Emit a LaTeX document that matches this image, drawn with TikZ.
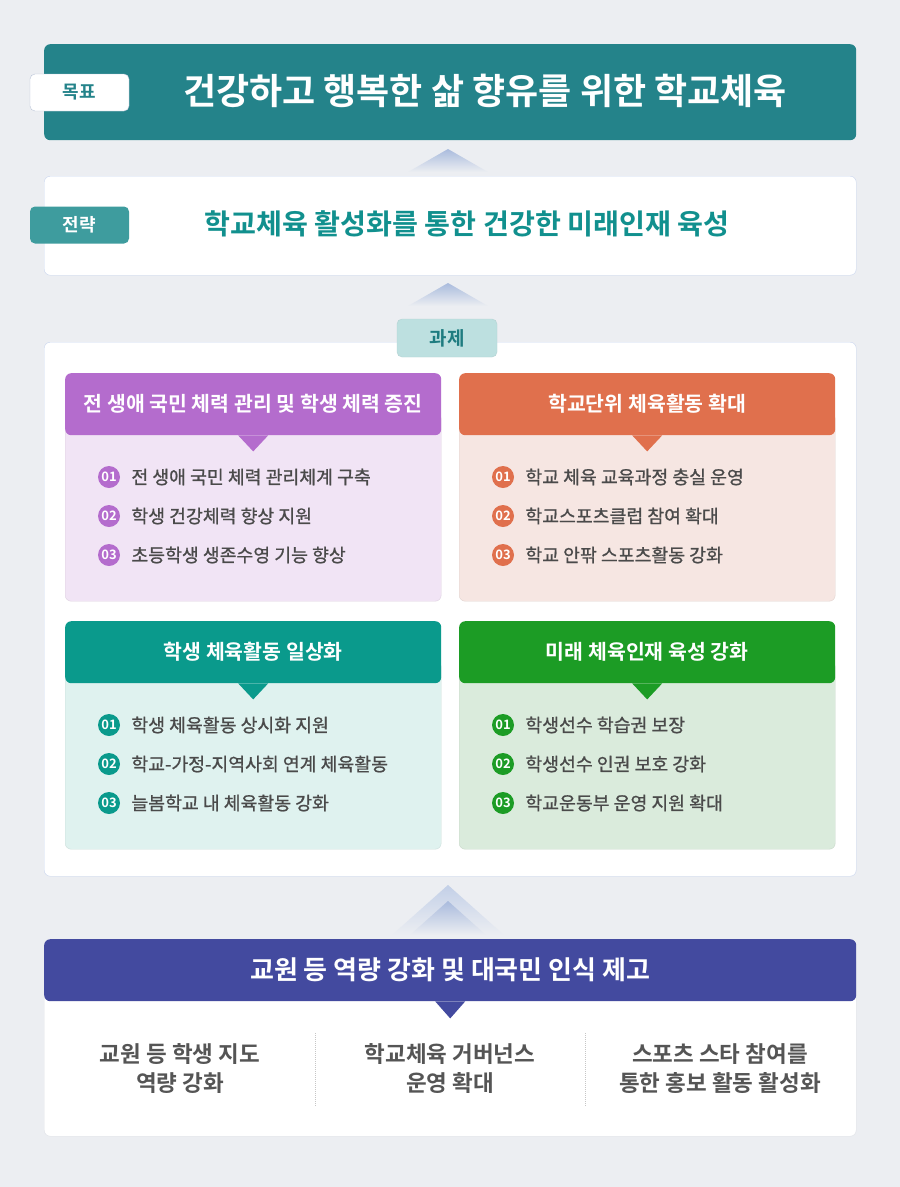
\documentclass[tikz,border=0pt]{standalone}
\usepackage{fontspec}
\setmainfont{Noto Sans CJK KR}[BoldFont={Noto Sans CJK KR Bold}]
\newfontfamily\medfont{Noto Sans CJK KR}[FakeBold=0.9]
\usetikzlibrary{positioning,shadings}
\definecolor{bgc}{HTML}{ECEEF2}
\definecolor{goalc}{HTML}{24838A}
\definecolor{stratc}{HTML}{3E9C9E}
\definecolor{stratt}{HTML}{11908E}
\definecolor{framec}{HTML}{C9D5EE}
\definecolor{tabc}{HTML}{BDE0E0}
\definecolor{tabt}{HTML}{1E7C80}
\definecolor{chevc}{HTML}{A9BBDD}
\definecolor{txtc}{HTML}{4A4A4A}
\definecolor{baset}{HTML}{555555}
\definecolor{cpur}{HTML}{B46CCD}
\definecolor{lpur}{HTML}{F1E4F5}
\definecolor{cora}{HTML}{E0704D}
\definecolor{lora}{HTML}{F6E6E2}
\definecolor{ctea}{HTML}{0A9A8C}
\definecolor{ltea}{HTML}{DFF2EF}
\definecolor{cgre}{HTML}{1C9C25}
\definecolor{lgre}{HTML}{DAEBDC}
\definecolor{cind}{HTML}{434A9F}
\tikzset{
  box/.style={rounded corners=6pt,inner sep=0pt,anchor=north west},
  tagbox/.style={rounded corners=5pt,minimum width=99,minimum height=37,inner sep=0pt,font=\bfseries\fontsize{18}{18}\selectfont},
  headtxt/.style={text=white,font=\bfseries\fontsize{20.5}{20.5}\selectfont},
  itemtxt/.style={text=txtc,inner sep=0pt,font=\medfont\fontsize{18.3}{18.3}\selectfont},
  numdot/.style={circle,minimum size=22,inner sep=0pt,text=white,font=\bfseries\fontsize{13}{13}\selectfont},
  basetxt/.style={text=baset,align=center,font=\bfseries\fontsize{22.5}{29}\selectfont}
}
\begin{document}
\begin{tikzpicture}[x=1pt,y=-1pt]
\fill[bgc] (0,0) rectangle (900,1187);
\useasboundingbox (0,0) rectangle (900,1187);
% goal
\node[box,fill=goalc,minimum width=812,minimum height=96] (goal) at (44,44) {};
\node[text=white,font=\bfseries\fontsize{36}{36}\selectfont] (goaltxt) at (485,91) {건강하고 행복한 삶 향유를 위한 학교체육};
\node[tagbox,fill=white,draw=framec!80!gray,text=goalc] (goaltag) at (79.5,92.5) {목표};
\shade[top color=chevc,bottom color=bgc] (448,149) -- (408,172) -- (488,172) -- cycle;
% strategy
\node[box,fill=white,draw=framec,minimum width=812,minimum height=99] (strat) at (44,176) {};
\node[text=stratt,font=\bfseries\fontsize{28.2}{28.2}\selectfont] (strattxt) at (467,224) {학교체육 활성화를 통한 건강한 미래인재 육성};
\node[tagbox,fill=stratc,text=white] (strattag) at (79.5,225) {전략};
\shade[top color=chevc,bottom color=bgc] (448,283) -- (408,306) -- (488,306) -- cycle;
% tasks
\node[box,fill=white,draw=framec,minimum width=812,minimum height=534] (task) at (44,342) {};
\node[tagbox,fill=tabc,draw=tabc!85!gray,text=tabt,minimum width=100,minimum height=38,font=\bfseries\fontsize{19}{19}\selectfont] (tasktag) at (447,338) {과제};
\foreach \nm/\cx/\cy/\hc/\lc/\title/\items in {
  pa/65/373/cpur/lpur/{전 생애 국민 체력 관리 및 학생 체력 증진}/{{전 생애 국민 체력 관리체계 구축},{학생 건강체력 향상 지원},{초등학생 생존수영 기능 향상}},
  pb/459/373/cora/lora/{학교단위 체육활동 확대}/{{학교 체육 교육과정 충실 운영},{학교스포츠클럽 참여 확대},{학교 안팎 스포츠활동 강화}},
  pc/65/621/ctea/ltea/{학생 체육활동 일상화}/{{학생 체육활동 상시화 지원},{학교-가정-지역사회 연계 체육활동},{늘봄학교 내 체육활동 강화}},
  pd/459/621/cgre/lgre/{미래 체육인재 육성 강화}/{{학생선수 학습권 보장},{학생선수 인권 보호 강화},{학교운동부 운영 지원 확대}}}{
  \node[box,fill=\lc,draw=\lc!92!black,minimum width=376,minimum height=188] (\nm-body) at (\cx,\cy+40) {};
  \node[box,fill=\hc,minimum width=376,minimum height=62] (\nm-head) at (\cx,\cy) {};
  \fill[\hc] ([xshift=-15pt]\nm-head.south) -- ([xshift=15pt]\nm-head.south) -- ([yshift=-16pt]\nm-head.south) -- cycle;
  \node[headtxt] (\nm-title) at (\nm-head.center) {\title};
  \foreach \entry [count=\k] in \items {
    \node[numdot,fill=\hc] (\nm-n\k) at (\cx+44,\cy+65+39*\k) {0\k};
    \node[itemtxt,right=11pt of \nm-n\k] (\nm-t\k) {\entry};
  }
}
\shade[top color=chevc!70,bottom color=bgc] (448,885) -- (392,935) -- (504,935) -- cycle;
\shade[top color=chevc,bottom color=bgc] (448,901) -- (410,935) -- (486,935) -- cycle;
% base
\node[box,fill=white,draw=framec!60!gray!40,minimum width=812,minimum height=180] (base) at (44,956) {};
\node[box,fill=cind,minimum width=812,minimum height=62] (basehead) at (44,939) {};
\fill[cind] ([xshift=-15pt]basehead.south) -- ([xshift=15pt]basehead.south) -- ([yshift=-17pt]basehead.south) -- cycle;
\node[text=white,font=\bfseries\fontsize{26}{26}\selectfont] (basetitle) at (basehead.center) {교원 등 역량 강화 및 대국민 인식 제고};
\foreach \nm/\cx/\txt in {ba/180/{교원 등 학생 지도\\역량 강화},bb/450/{학교체육 거버넌스\\운영 확대},bc/720/{스포츠 스타 참여를\\통한 홍보 활동 활성화}}
  \node[basetxt] (\nm) at (\cx,1069) {\txt};
\foreach \dx in {315,585}
  \draw[densely dotted,gray!45,line width=1pt] (\dx,1033) -- (\dx,1106);
\end{tikzpicture}
\end{document}
